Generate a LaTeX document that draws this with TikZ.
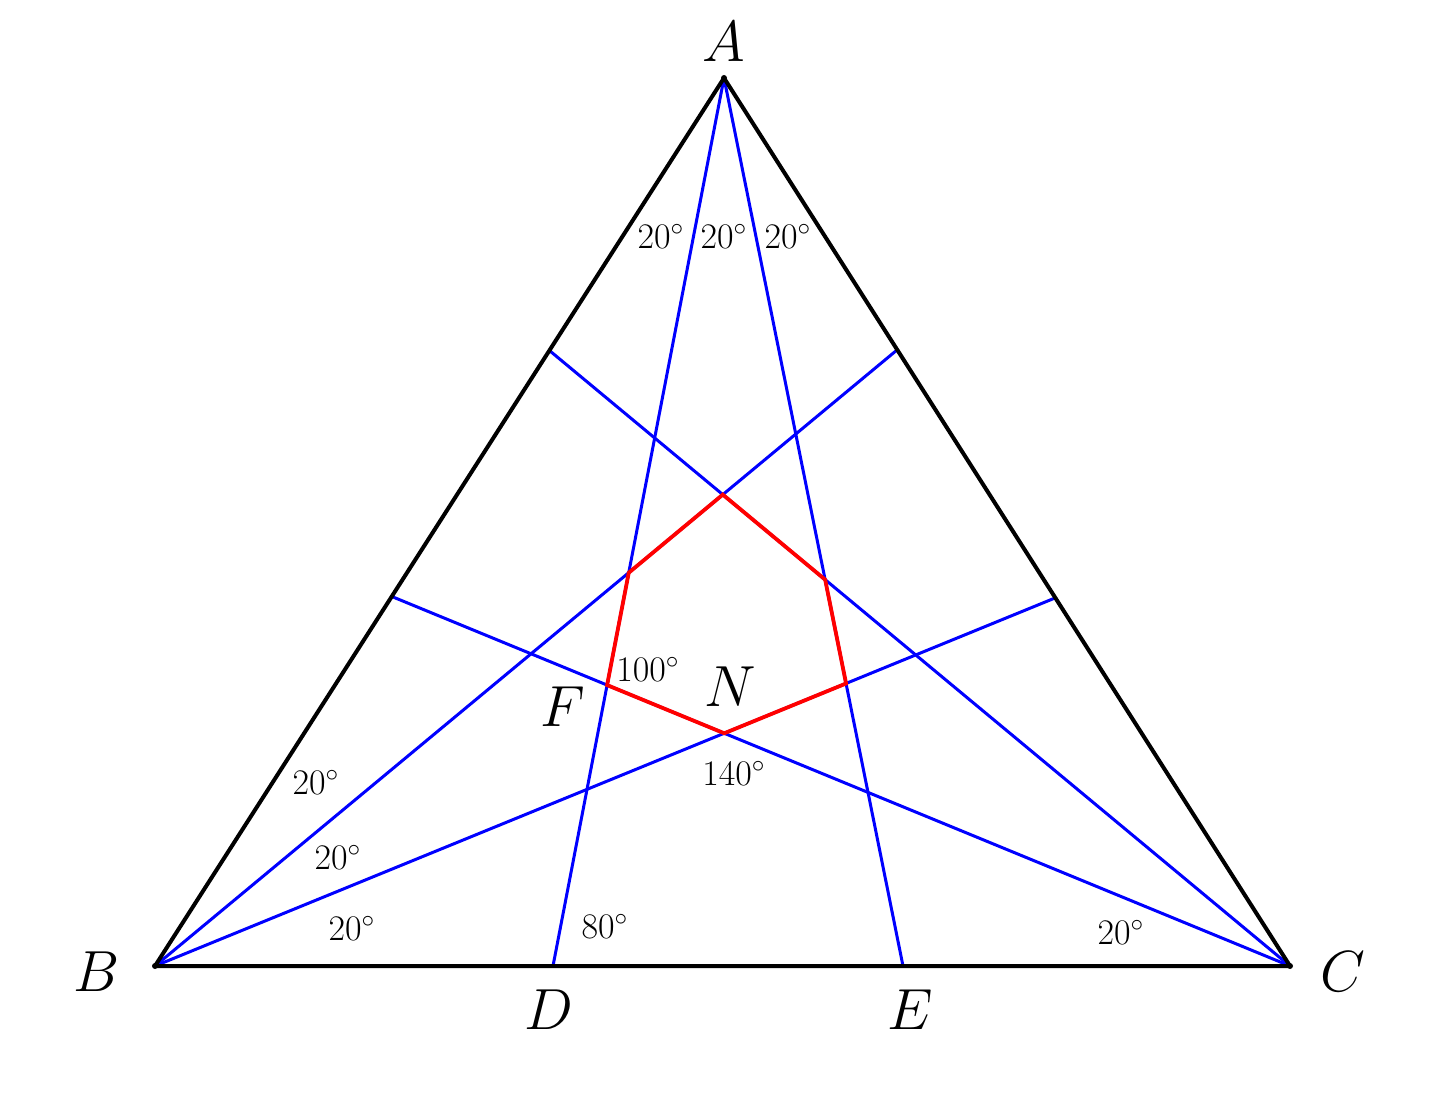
\RequirePackage{fix-cm}
\documentclass[tikz,border=0pt]{standalone}
\begin{document}
\begin{tikzpicture}[x=0.5pt,y=-0.5pt,
  side/.style={line width=2pt,black,line cap=round,line join=round},
  trisect/.style={line width=1.5pt,blue},
  hexa/.style={line width=1.9pt,red,line join=miter},
  vlab/.style={font=\fontsize{29}{33}\selectfont},
  dlab/.style={font=\fontsize{18}{21}\selectfont},
  dot/.style={circle,fill=black,inner sep=0pt,minimum size=3pt}]
\useasboundingbox (0,0) rectangle (1436,1096);
\coordinate (A) at (724,78);
\coordinate (B) at (155,966);
\coordinate (C) at (1290,966);
\coordinate (D) at (553,966);
\coordinate (E) at (903,966);
\coordinate (P1) at (1055,598);
\coordinate (P2) at (897,350);
\coordinate (Q1) at (393,597);
\coordinate (Q2) at (550,351);
% trisectors
\draw[trisect] (A) -- (D);
\draw[trisect] (A) -- (E);
\draw[trisect] (B) -- (P1);
\draw[trisect] (B) -- (P2);
\draw[trisect] (C) -- (Q1);
\draw[trisect] (C) -- (Q2);
% hexagon
\coordinate (H1) at (intersection of B--P2 and C--Q2);
\coordinate (H2) at (intersection of A--E and C--Q2);
\coordinate (H3) at (intersection of A--E and B--P1);
\coordinate (H4) at (intersection of B--P1 and C--Q1);
\coordinate (H5) at (intersection of A--D and C--Q1);
\coordinate (H6) at (intersection of A--D and B--P2);
\draw[hexa] (H1) -- (H2) -- (H3) -- (H4) -- (H5) -- (H6) -- cycle;
% triangle
\draw[side] (A) -- (B) -- (C) -- cycle;
\node[dot] (dA) at (A) {};
\node[dot] (dB) at (B) {};
\node[dot] (dC) at (C) {};
% vertex labels
\node[vlab] (lA) at (724,42) {$A$};
\node[vlab] (lB) at (97,972) {$B$};
\node[vlab] (lC) at (1343,972) {$C$};
\node[vlab] (lD) at (549,1010) {$D$};
\node[vlab] (lE) at (910,1010) {$E$};
\node[vlab] (lF) at (563,707) {$F$};
\node[vlab] (lN) at (730,687) {$N$};
% angle labels
\node[dlab] (a1) at (661,236) {$20^\circ$};
\node[dlab] (a2) at (724,236) {$20^\circ$};
\node[dlab] (a3) at (788,236) {$20^\circ$};
\node[dlab] (b1) at (316,782) {$20^\circ$};
\node[dlab] (b2) at (338,857) {$20^\circ$};
\node[dlab] (b3) at (352,928) {$20^\circ$};
\node[dlab] (d1) at (605,926) {$80^\circ$};
\node[dlab] (c1) at (1121,932) {$20^\circ$};
\node[dlab] (f1) at (648,669) {$100^\circ$};
\node[dlab] (n1) at (734,773) {$140^\circ$};
\end{tikzpicture}
\end{document}
